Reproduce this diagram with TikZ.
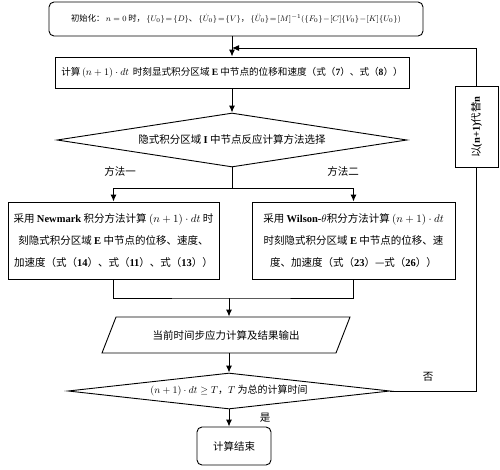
\documentclass[tikz,border=0pt]{standalone}
\usepackage{amsmath}
\usepackage{fontspec}
\setmainfont{Noto Sans CJK SC}
\newfontfamily\lat{Liberation Serif}
\newcommand{\latb}[1]{{\lat\bfseries #1}}
\usetikzlibrary{arrows.meta, shapes, calc}

\begin{document}
\begin{tikzpicture}[>={Latex[length=7pt,width=6pt]}, x=1pt, y=1pt, inner sep=0pt,
	font=\fontsize{10.5}{22}\selectfont,
	box/.style={draw, rectangle, line width=0.9pt, align=center},
	rbox/.style={box, rounded corners=5},
	dec/.style={draw, diamond, line width=0.9pt, align=center},
	io/.style={draw, trapezium, trapezium left angle=35, trapezium right angle=145, trapezium stretches body=true, line width=0.9pt},
	arr/.style={->, line width=1pt},
	conn/.style={line width=1pt}]

	\useasboundingbox (0,0) rectangle (500,-469);

	% Kaesten
	\node[rbox, minimum width=374, minimum height=34, font=\fontsize{8.3}{12}\selectfont](init) at (236,-19) {初始化：\,$n=0$ 时，\,$\{U_0\}\!=\!\{D\}$、\,$\{\dot{U}_0\}\!=\!\{V\}$，\,$\{\ddot{U}_0\}\!=\![M]^{-1}(\{F_0\}\!-\![C]\{V_0\}\!-\![K]\{U_0\})$};
	\node[box, minimum width=354, minimum height=31, font=\fontsize{9.6}{12}\selectfont](calc) at (232,-72.5) {计算\,$(n+1)\cdot dt$\, 时刻显式积分区域 \latb{E} 中节点的位移和速度（式（\latb{7}）、式（\latb{8}））};
	\node[dec, shape aspect=6.5, minimum width=350, minimum height=54](sel) at (232,-140) {隐式积分区域 \latb{I} 中节点反应计算方法选择};
	\node[box, minimum width=211, minimum height=77](left) at (113.5,-240.5) {采用 \latb{Newmark} 积分方法计算 $(n+1)\cdot dt$ 时\\刻隐式积分区域 \latb{E} 中节点的位移、速度、\\加速度（式（\latb{14}）、式（\latb{11}）、式（\latb{13}））};
	\node[box, minimum width=203, minimum height=77](right) at (353.5,-240.5) {采用 \latb{Wilson-}$\theta$积分方法计算 $(n+1)\cdot dt$\\时刻隐式积分区域 \latb{E} 中节点的位移、速\\度、加速度（式（\latb{23}）—式（\latb{26}））};
	\node[io, minimum width=248, minimum height=36](out) at (226,-335) {当前时间步应力计算及结果输出};
	\node[dec, shape aspect=9, minimum width=322, minimum height=36, font=\fontsize{10}{12}\selectfont](chk) at (229,-391) {$(n+1)\cdot dt\geq T$，$T$ 为总的计算时间};
	\node[rbox, minimum width=74, minimum height=38](stop) at (234,-446) {计算结束};
	\node[box, rotate=90, minimum width=81, minimum height=43](repl) at (476.5,-127) {以\latb{(n+1)}代替\latb{n}};

	% Beschriftungen
	\node[](m1) at (120,-171) {方法一};
	\node[](m2) at (343,-171) {方法二};
	\node[](no) at (428,-377) {否};
	\node[](yes) at (265,-418) {是};

	\coordinate (split) at (232,-188);
	\coordinate (merge) at (229,-298);
	\coordinate (back) at (232,-48);

	% Verbindungen
	\draw[arr] (init.south -| calc.north) -- (calc.north);
	\draw[arr] (calc.south) -- (sel.north);
	\draw[conn] (sel.south) -- (split);
	\draw[arr] (split) -| (left.north);
	\draw[arr] (split) -| (right.north);
	\draw[conn] (left.south) |- (merge) -| (right.south);
	\draw[arr] (merge) -- (merge |- out.north);
	\draw[arr] (out.south -| chk.north) -- (chk.north);
	\draw[arr] (chk.south) -- (chk.south |- stop.north);
	\draw[conn] (chk.east) -| (repl.west);
	\draw[arr] (repl.east) |- (back);
\end{tikzpicture}
\end{document}
